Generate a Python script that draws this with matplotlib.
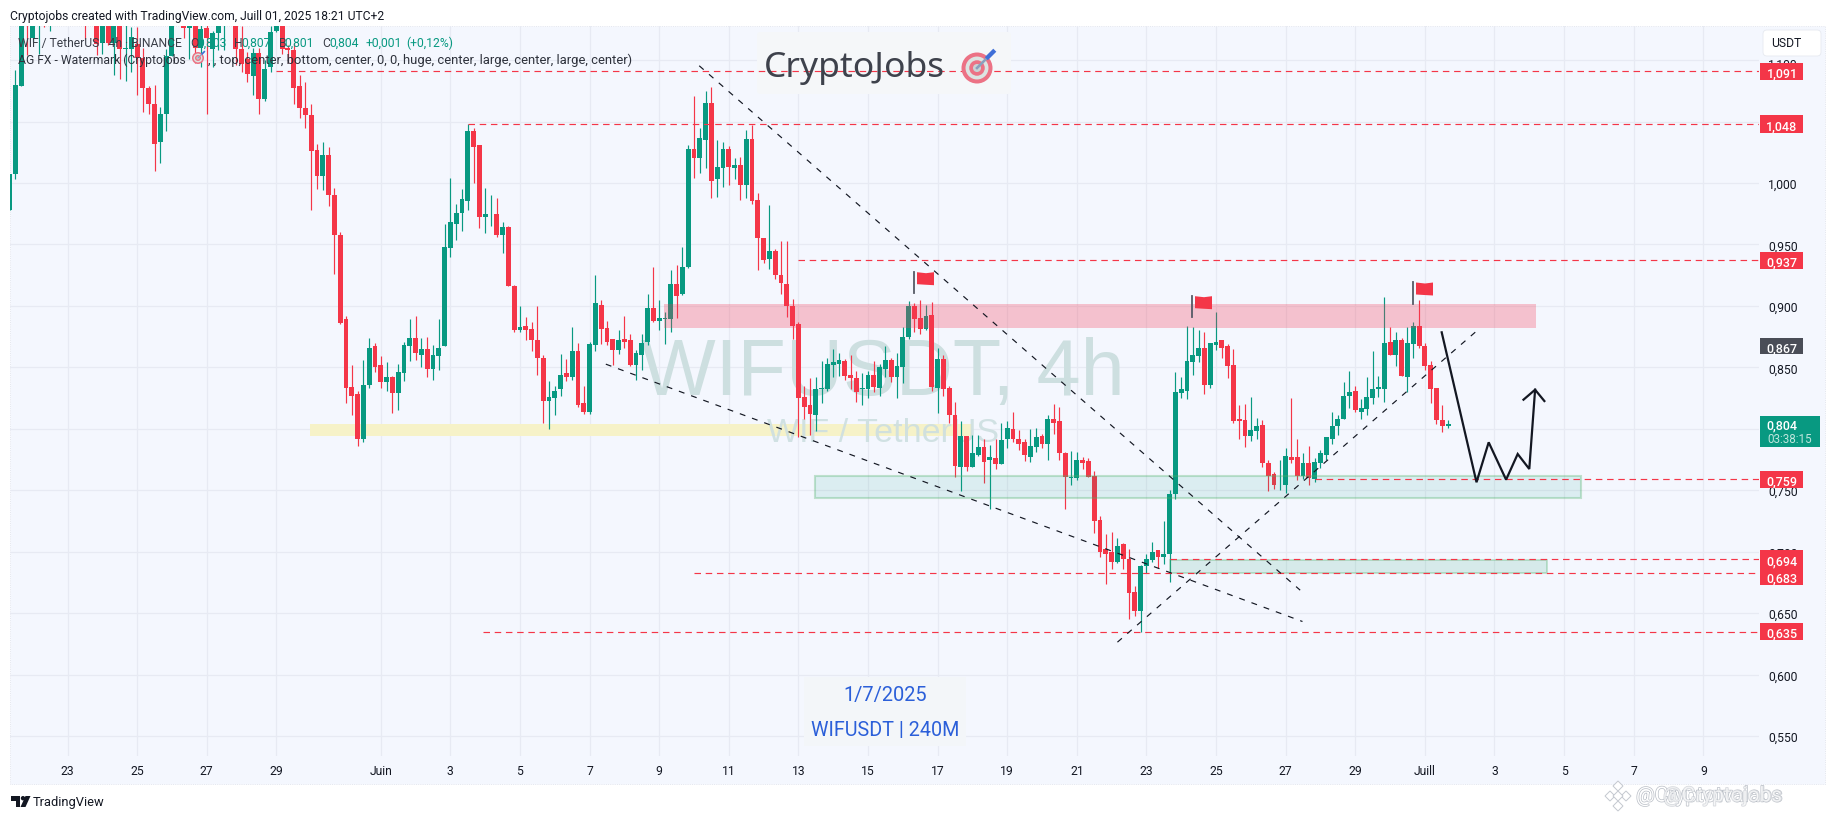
import matplotlib
matplotlib.use("Agg")
import matplotlib.pyplot as plt
import matplotlib.patheffects as pe
from matplotlib.patches import Rectangle, Circle, Polygon, FancyBboxPatch
from matplotlib.transforms import Affine2D, blended_transform_factory

plt.rcParams['font.family'] = ['Roboto', 'DejaVu Sans']

# 4h candles, first one is cut by the left edge, index 64 = 1 June 00:00
opens = [
    .978,1.007,1.079,1.150,1.118,1.135,1.150,1.135,1.150,1.140,
    1.155,1.145,1.155,1.150,1.135,1.150,1.114,1.150,1.114,1.140,
    1.109,1.109,1.113,1.102,1.077,1.064,1.033,1.056,1.103,1.150,
    1.128,1.126,1.130,1.110,1.126,1.109,1.122,1.130,1.145,1.140,
    1.109,1.101,1.087,1.106,1.068,1.094,1.124,1.128,1.110,1.108,
    1.079,1.061,1.055,1.027,1.006,1.023,.990,.958,.889,.834,
    .828,.792,.836,.867,.852,.838,.842,.829,.845,.867,
    .874,.860,.865,.849,.859,.867,.947,.967,.976,.985,
    1.042,1.031,.972,.974,.975,.958,.964,.916,.880,.884,
    .881,.872,.858,.823,.825,.832,.845,.842,.863,.821,
    .814,.868,.901,.882,.873,.864,.873,.872,.852,.860,
    .871,.898,.888,.889,.889,.918,.910,.932,1.028,1.020,
    1.035,1.065,1.003,1.012,1.028,1.012,1.015,.998,1.036,.986,
    .955,.938,.945,.925,.918,.900,.885,.826,.819,.811,
    .832,.832,.852,.853,.855,.844,.841,.832,.832,.844,
    .833,.849,.856,.842,.850,.875,.900,.890,.881,.893,
    .833,.857,.833,.811,.769,.794,.769,.779,.785,.775,
    .776,.771,.792,.800,.792,.789,.777,.785,.794,.788,
    .808,.806,.780,.760,.760,.775,.774,.762,.726,.702,
    .700,.692,.706,.694,.667,.652,.688,.693,.701,.696,
    .698,.747,.829,.831,.854,.859,.866,.836,.868,.872,
    .867,.852,.808,.807,.794,.798,.803,.772,.763,.755,
    .754,.777,.777,.762,.772,.759,.772,.779,.792,.802,
    .808,.827,.831,.814,.816,.825,.832,.832,.871,.860,
    .872,.842,.869,.884,.867,.852,.833,.807,.802]
highs = [
    1.007,1.092,1.145,1.155,1.150,1.155,1.155,1.155,1.160,1.160,
    1.165,1.160,1.160,1.160,1.155,1.155,1.150,1.155,1.150,1.145,
    1.135,1.127,1.127,1.110,1.079,1.080,1.062,1.109,1.145,1.160,
    1.140,1.140,1.140,1.135,1.140,1.124,1.140,1.145,1.160,1.150,
    1.128,1.107,1.110,1.110,1.100,1.128,1.135,1.135,1.112,1.114,
    1.088,1.082,1.064,1.032,1.033,1.029,.996,.960,.892,.852,
    .831,.856,.874,.870,.859,.854,.843,.853,.871,.889,
    .892,.874,.875,.868,.889,.967,1.004,.983,.995,1.048,
    1.045,1.031,.996,.990,.988,.968,.965,.917,.900,.891,
    .887,.900,.860,.839,.835,.861,.857,.883,.870,.835,
    .871,.925,.905,.888,.873,.880,.892,.877,.864,.877,
    .910,.932,.905,.895,.929,.933,.948,1.031,1.071,1.045,
    1.075,1.078,1.035,1.033,1.030,1.020,1.021,1.043,1.047,.992,
    .955,.982,.946,.953,.953,.906,.887,.835,.841,.842,
    .855,.858,.865,.862,.857,.860,.847,.845,.847,.855,
    .853,.867,.858,.862,.883,.904,.902,.905,.901,.903,
    .866,.860,.835,.822,.806,.794,.795,.795,.792,.787,
    .792,.805,.806,.814,.799,.792,.800,.801,.796,.811,
    .820,.818,.781,.782,.781,.777,.776,.766,.729,.714,
    .716,.711,.707,.702,.672,.689,.698,.708,.701,.725,
    .750,.846,.842,.884,.883,.880,.879,.870,.895,.872,
    .869,.865,.819,.820,.826,.809,.807,.775,.765,.775,
    .784,.825,.792,.780,.786,.776,.783,.793,.814,.811,
    .838,.847,.835,.824,.842,.863,.843,.907,.883,.879,
    .874,.883,.887,.905,.870,.855,.833,.819,.807]
lows = [
    .978,1.003,1.079,1.104,1.115,1.105,1.127,1.124,1.135,1.135,
    1.140,1.135,1.140,1.117,1.130,1.104,1.105,1.112,1.088,1.085,
    1.083,1.090,1.072,1.058,1.056,1.010,1.016,1.042,1.103,1.130,
    1.118,1.101,1.098,1.094,1.056,1.094,1.108,1.108,1.130,1.096,
    1.090,1.082,1.072,1.056,1.067,1.090,1.123,1.105,1.098,1.064,
    1.053,1.045,.978,.995,.994,.981,.926,.885,.821,.811,
    .786,.789,.833,.846,.833,.831,.813,.815,.839,.855,
    .856,.850,.842,.840,.848,.867,.940,.954,.961,.978,
    1.000,.963,.959,.965,.956,.943,.916,.879,.879,.872,
    .863,.844,.805,.800,.811,.827,.839,.840,.818,.812,
    .812,.863,.869,.868,.852,.861,.866,.851,.840,.848,
    .868,.887,.880,.869,.879,.890,.909,.931,1.004,1.008,
    1.012,.988,.989,.997,.998,1.003,.986,.988,.983,.929,
    .935,.930,.922,.910,.891,.873,.793,.808,.795,.798,
    .821,.831,.842,.843,.840,.832,.822,.819,.825,.830,
    .827,.842,.838,.825,.837,.873,.879,.877,.880,.831,
    .813,.827,.805,.761,.749,.766,.769,.778,.756,.735,
    .767,.771,.784,.789,.783,.774,.773,.781,.784,.775,
    .796,.775,.735,.754,.758,.767,.761,.715,.696,.674,
    .686,.691,.686,.645,.648,.635,.683,.692,.687,.690,
    .675,.743,.825,.824,.844,.854,.828,.833,.864,.858,
    .841,.805,.792,.785,.790,.792,.769,.749,.751,.750,
    .748,.772,.758,.759,.754,.757,.768,.775,.788,.795,
    .808,.817,.814,.808,.811,.820,.826,.822,.860,.851,
    .843,.830,.858,.866,.848,.821,.804,.797,.801]
closes = [
    1.007,1.080,1.140,1.132,1.145,1.150,1.135,1.150,1.140,1.155,
    1.145,1.155,1.140,1.135,1.150,1.113,1.140,1.114,1.140,1.109,
    1.110,1.119,1.102,1.077,1.064,1.032,1.056,1.103,1.140,1.135,
    1.126,1.128,1.110,1.125,1.118,1.122,1.128,1.140,1.135,1.109,
    1.097,1.089,1.106,1.068,1.093,1.123,1.128,1.109,1.108,1.077,
    1.061,1.055,1.026,1.006,1.023,.990,.958,.886,.833,.827,
    .792,.836,.866,.850,.838,.842,.829,.846,.868,.874,
    .862,.865,.849,.860,.866,.948,.968,.976,.987,1.042,
    1.029,.972,.975,.974,.958,.964,.916,.880,.883,.880,
    .872,.858,.823,.826,.831,.844,.842,.863,.819,.814,
    .869,.902,.881,.871,.864,.872,.871,.852,.862,.870,
    .898,.888,.890,.890,.918,.908,.932,1.028,1.020,1.037,
    1.065,1.002,1.013,1.028,1.013,1.015,.998,1.036,.985,.955,
    .937,.945,.925,.919,.900,.884,.825,.818,.812,.832,
    .833,.853,.854,.856,.843,.841,.830,.833,.844,.834,
    .850,.856,.842,.851,.875,.900,.889,.881,.892,.834,
    .857,.832,.811,.770,.794,.769,.780,.785,.773,.777,
    .771,.791,.801,.792,.788,.779,.786,.793,.788,.808,
    .805,.780,.761,.761,.775,.772,.761,.725,.700,.698,
    .692,.705,.694,.666,.652,.688,.694,.700,.696,.698,
    .747,.830,.832,.855,.860,.866,.836,.870,.871,.866,
    .851,.806,.806,.794,.799,.802,.772,.762,.754,.755,
    .778,.775,.762,.772,.760,.773,.780,.793,.802,.808,
    .827,.830,.815,.817,.826,.832,.834,.870,.860,.872,
    .843,.870,.884,.867,.851,.832,.807,.802,.804]

price_ticks = [1.05, 1.0, .95, .9, .85, .8, .75, .7, .65, .6, .55]
grid_prices = [1.1] + price_ticks
tick_days = [-9, -7, -5, -3, 0, 2, 4, 6, 8, 10, 12, 14, 16, 18, 20, 22, 24, 26, 28, 30, 32, 34, 36, 38]
tick_names = ["23", "25", "27", "29", "Juin", "3", "5", "7", "9", "11", "13", "15", "17", "19",
              "21", "23", "25", "27", "29", "Juill", "3", "5", "7", "9"]

# level, candle where the dashed line starts
level_prices = [1.091, 1.048, .937, .759, .694, .683, .635]
level_starts = [46, 79, 136, 225, 200, 118, 81.6]

GREEN = "#089981"
RED = "#F43648"
DARK = "#131722"
PANEL = "#F4F7FE"

W, H = 1835, 820
fig = plt.figure(figsize=(W / 100, H / 100), dpi=100, facecolor="white")
# image pixels, y going down, for everything that is not data
px = Affine2D().scale(1, -1).translate(0, H)

fig.add_artist(Rectangle((10, 27), 1815, 758, transform=px, facecolor=PANEL, edgecolor="#DDE1EA",
                         lw=0.6, ls=":", zorder=-1))

ax = fig.add_axes([10 / W, 1 - 757 / H, 1749 / W, 730 / H])
ax.patch.set_alpha(0)
for s in ax.spines.values():
    s.set_visible(False)
ax.set_xlim(0.086, 301.6)
ax.set_ylim(0.53377, 1.12775)
ax.set_axisbelow(True)
ax.grid(True, color="#E7EAF3", lw=0.9)
ax.set_yticks(grid_prices)
# the 1,100 label sits almost hidden under the 1,091 tag, placed by hand below
ax.set_yticklabels([""] + [f"{p:.3f}".replace(".", ",") for p in price_ticks])
for t in ax.get_yticklabels():
    t.set_va("center_baseline")
ax.yaxis.tick_right()
ax.set_xticks([64 + 6 * d for d in tick_days])
ax.set_xticklabels(tick_names)
ax.tick_params(axis="both", length=0, labelsize=8.7, labelcolor=DARK)
ax.tick_params(axis="y", pad=6.5)
ax.tick_params(axis="x", pad=5.5)
ax.text(1768, 65, "1,100", transform=px, ha="left", va="center", color=DARK, fontsize=8.7, zorder=1, clip_on=False)

# zones under the candles
ax.add_patch(Rectangle((51.8, .7941), 114.2, .0100, facecolor="#F6F2C8", edgecolor="none", zorder=0.8))

# watermarks
ax.text(883, 375, "WIFUSDT, 4h", transform=px, ha="center", va="center", fontsize=57, color="#CDDFE0",
        family="Liberation Sans", zorder=1, clip_on=False)
ax.text(883, 434, "WIF / TetherUS", transform=px, ha="center", va="center", fontsize=24.5, color="#CDDFE0",
        family="Liberation Sans", zorder=1, alpha=0.9, clip_on=False)
ax.add_patch(FancyBboxPatch((757, 33), 254, 62, boxstyle="round,pad=0,rounding_size=3", transform=px,
                            facecolor="#F5F7F9", edgecolor="none", zorder=1))
ax.add_patch(Rectangle((804, 678), 162, 69, transform=px, facecolor="#F3F6F9", edgecolor="none", zorder=1))

# candles
for i in range(len(opens)):
    col = GREEN if closes[i] >= opens[i] else RED
    ax.vlines(i, lows[i], highs[i], color=col, lw=0.85, zorder=3)
    ax.bar(i, abs(closes[i] - opens[i]), bottom=min(opens[i], closes[i]), width=0.84, color=col,
           linewidth=0, zorder=3.1)

# zones over the candles
ax.add_patch(Rectangle((112.8, .8823), 150.4, .0192, facecolor=(.96, .22, .33, .28), edgecolor="none", zorder=4))
ax.add_patch(Rectangle((138.8, .7435), 132.2, .0178, facecolor=(.03, .6, .5, .10),
                       edgecolor=(.30, .69, .40, .32), lw=1.5, zorder=4))
ax.add_patch(Rectangle((200, .6824), 65, .0106, facecolor=(.05, .6, .4, .13),
                       edgecolor=(.30, .69, .40, .30), lw=1.4, zorder=4))

# horizontal levels and their price tags
blend = blended_transform_factory(px, ax.transData)
for price, start in zip(level_prices, level_starts):
    ax.plot([start, 301.6], [price, price], color=RED, lw=0.85, ls=(0, (5.5, 4)), zorder=4.5)
    nudge = -0.0033 if price == .683 else 0
    ax.add_patch(Rectangle((1760, price + nudge - .0070), 43, .0140, transform=blend, facecolor=RED,
                           edgecolor="none", zorder=6, clip_on=False))
    ax.text(1782, price + nudge, f"{price:.3f}".replace(".", ","), transform=blend, ha="center", va="center_baseline",
            color="white", fontsize=9, weight=500, zorder=7, clip_on=False)

ax.add_patch(Rectangle((1760, .8605), 43, .0135, transform=blend, facecolor="#4A4D57", edgecolor="none",
                       zorder=6, clip_on=False))
ax.text(1782, .867, "0,867", transform=blend, ha="center", va="center_baseline", color="white", fontsize=9,
        weight=500, zorder=7, clip_on=False)
ax.add_patch(Rectangle((1760, .7850), 60, .0255, transform=blend, facecolor=GREEN, edgecolor="none",
                       zorder=6, clip_on=False))
ax.text(1782, .804, "0,804", transform=blend, ha="center", va="center_baseline", color="white", fontsize=9,
        weight=500, zorder=7, clip_on=False)
ax.text(1790, .7935, "03:38:15", transform=blend, ha="center", va="center_baseline", color="#BFE6DD", fontsize=8.4,
        zorder=7, clip_on=False)

# trend lines
trend_x = [(118.9, 222.5), (102.8, 222.9), (191, 253.1)]
trend_y = [(1.0954, .6687), (.8526, .6432), (.6264, .8803)]
for tx, ty in zip(trend_x, trend_y):
    ax.plot(tx, ty, color=DARK, lw=0.85, ls=(0, (5, 6)), zorder=5)

# projected path with its arrow head
path_x = [246.9, 252.9, 255, 258, 260, 262, 263]
path_y = [.8785, .7565, .7890, .7586, .7795, .7673, .8318]
ax.plot(path_x, path_y, color=DARK, lw=1.6, zorder=5.5, solid_joinstyle="miter")
ax.plot([261, 263, 264.6], [.8237, .8318, .8226], color=DARK, lw=1.6, zorder=5.5, solid_joinstyle="miter")

# flags
for fx, fy in [(914, 272.7), (1192, 296.7), (1413, 283)]:
    ax.plot([fx, fx], [fy, fy + 21.5], transform=px, color="#555A66", lw=1.3, zorder=6, clip_on=False)
    ax.add_patch(Polygon([(fx + 3, fy + 0.5), (fx + 12, fy + 1.5), (fx + 20, fy + 0.5), (fx + 20, fy + 13.5),
                          (fx + 11, fy + 13), (fx + 3, fy + 12.5)], transform=px, facecolor=RED,
                         edgecolor="none", zorder=6))


def target(cx, cy, r):
    for k, c in [(1, "#EC7285"), (.74, "#DCE4E2"), (.5, "#EC7285"), (.26, "#C9D3D4")]:
        ax.add_patch(Circle((cx, cy), r * k, transform=px, facecolor=c, edgecolor="none", zorder=8, clip_on=False))
    ax.plot([cx, cx + r * .85], [cy, cy - r * .85], transform=px, color="#8AA0BE", lw=r * .12, zorder=8)
    ax.plot([cx + r * .7, cx + r * 1.05], [cy - r * .7, cy - r * 1.05], transform=px, color="#3F6FD8",
            lw=r * .2, zorder=8)


# logo block
ax.text(854, 68, "CryptoJobs", transform=px, ha="center", va="center", fontsize=25.5, color="#3E424C",
        family="Noto Sans", zorder=8, clip_on=False)
target(977, 69, 15.5)

ax.text(885, 696, "1/7/2025", transform=px, ha="center", va="center", fontsize=14.4, color="#2B5FD9",
        zorder=8, clip_on=False)
ax.text(885, 730.5, "WIFUSDT | 240M", transform=px, ha="center", va="center", fontsize=14.2, color="#2B5FD9",
        zorder=8, clip_on=False)

# top texts


def label(x, y, s, color=DARK, size=8.7, **kw):
    ax.text(x, y, s, transform=px, ha="left", va="center_baseline", color=color, fontsize=size, zorder=9,
            clip_on=False, **kw)


label(10, 15, "Cryptojobs created with TradingView.com, Juill 01, 2025 18:21 UTC+2")
label(18, 42, "WIF / TetherUS · 4h · BINANCE", color="#3A3E48")
for x, s in [(190, "O"), (234, "H"), (279, "B"), (322, "C")]:
    label(x, 42, s, color="#3A3E48")
for x, s in [(197, "0,803"), (241, "0,807"), (284, "0,801"), (329, "0,804"), (366, "+0,001"), (406, "(+0,12%)")]:
    label(x, 42, s, color=GREEN)
label(18, 59, "AG FX - Watermark (Cryptojobs", color="#2E323C")
target(198, 59, 6)
label(208, 59, ", , top, center, bottom, center, 0, 0, huge, center, large, center, large, center)", color="#2E323C",
      size=9.35)

# currency button
ax.add_patch(FancyBboxPatch((1763, 31), 58, 26, boxstyle="round,pad=0,rounding_size=4", transform=px,
                            facecolor="white", edgecolor="#E6E9F0", lw=0.6, zorder=8, clip_on=False))
ax.text(1786, 44, "USDT", transform=px, ha="center", va="center", color=DARK, fontsize=8.7, zorder=9, clip_on=False)

# TradingView logo
ax.add_patch(Polygon([(11, 797), (20, 797), (20, 808), (15.5, 808), (15.5, 801.5), (11, 801.5)], transform=px,
                     facecolor=DARK, edgecolor="none", clip_on=False))
ax.add_patch(Circle((23, 799.2), 2.2, transform=px, facecolor=DARK, edgecolor="none", clip_on=False))
ax.add_patch(Polygon([(25.5, 797), (30.5, 797), (25.5, 808), (20.5, 808)], transform=px, facecolor=DARK,
                     edgecolor="none", clip_on=False))
ax.text(33, 803, "TradingView", transform=px, ha="left", va="center", color=DARK, fontsize=9.3, clip_on=False)

# exchange stamp bottom right
outline = [pe.withStroke(linewidth=1.0, foreground="#B9BEC6")]
for cx, cy in [(1618, 787), (1610, 797), (1626, 797), (1618, 807), (1618, 797)]:
    ax.add_patch(Polygon([(cx, cy - 5), (cx + 5, cy), (cx, cy + 5), (cx - 5, cy)], transform=px, facecolor="white",
                         edgecolor="#C4C8CF", lw=0.7, clip_on=False))
ax.text(1636, 797, "@Cryptotvalabs", transform=px, ha="left", va="center", color="white", fontsize=15,
        path_effects=outline, clip_on=False)
ax.text(1663, 797, "@Cryptojobs", transform=px, ha="left", va="center", color="white", fontsize=15, alpha=0.6,
        path_effects=outline, clip_on=False)

fig.savefig("out.png", dpi=100)
